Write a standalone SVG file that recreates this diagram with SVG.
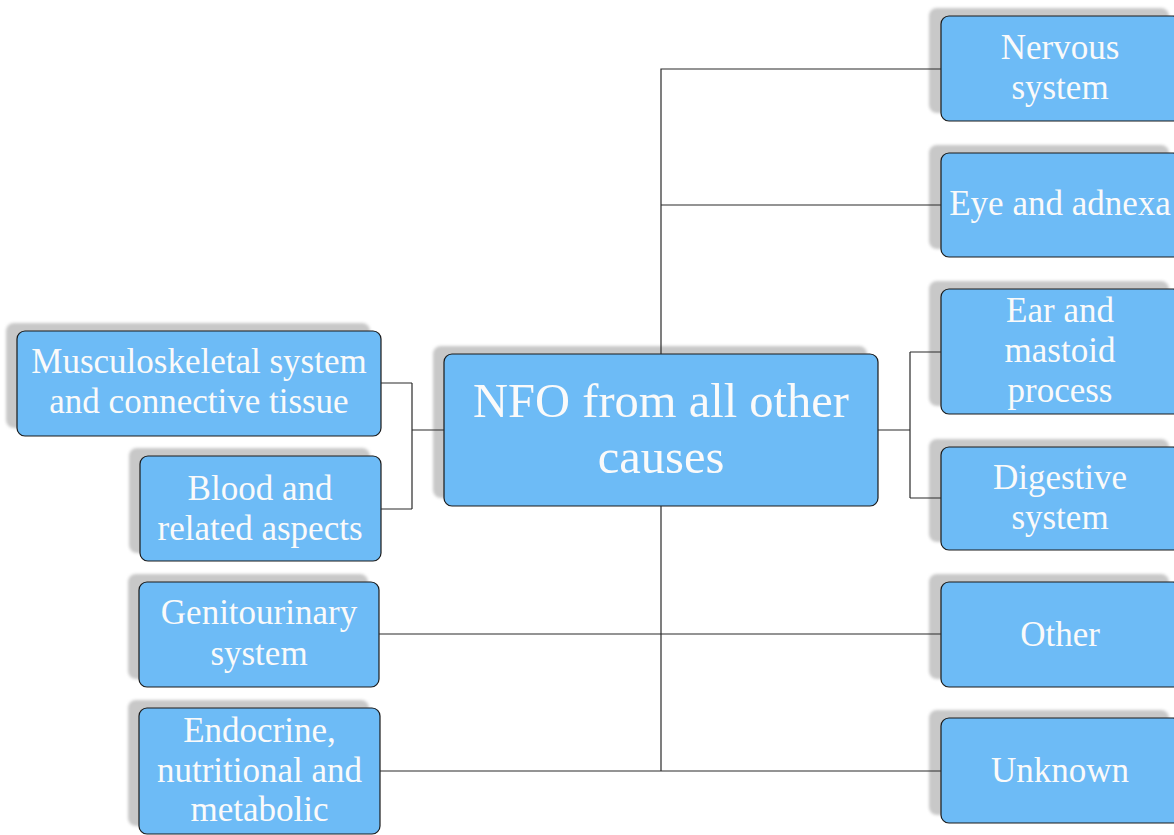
<svg xmlns="http://www.w3.org/2000/svg" width="1174" height="835" viewBox="0 0 1174 835">
  <style>
    .shadow { fill: #c8c8c8; filter: url(#soft); }
    .box { fill: #6dbbf6; stroke: #1a1a1a; stroke-width: 1.2; }
    .label { font-family: "Liberation Serif", "Times New Roman", serif; font-size: 35px; fill: #fafafa; text-anchor: middle; }
    .big { font-size: 48.5px; }
    .wire { fill: none; stroke: #2a2a2a; stroke-width: 1.2; }
  </style>
  <defs>
    <filter id="soft" x="-10%" y="-10%" width="120%" height="120%">
      <feGaussianBlur stdDeviation="1.6"/>
    </filter>
  </defs>
  <rect width="1174" height="835" fill="#ffffff"/>

  <!-- central node -->
  <g id="center">
    <rect class="shadow" x="433" y="346" width="434" height="152" rx="8"/>
    <rect class="box" x="444" y="354" width="434" height="152" rx="8"/>
    <text class="label big" x="661" y="417">NFO from all other</text>
    <text class="label big" x="661" y="473">causes</text>
  </g>

  <!-- right column -->
  <g id="nervous">
    <rect class="shadow" x="929" y="8" width="240" height="105" rx="8"/>
    <rect class="box" x="941" y="16" width="240" height="105" rx="8"/>
    <text class="label" x="1060" y="59">Nervous</text>
    <text class="label" x="1060" y="99">system</text>
  </g>
  <g id="eye">
    <rect class="shadow" x="929" y="145" width="240" height="104" rx="8"/>
    <rect class="box" x="941" y="153" width="240" height="104" rx="8"/>
    <text class="label" x="1060" y="215">Eye and adnexa</text>
  </g>
  <g id="ear">
    <rect class="shadow" x="929" y="281" width="240" height="125" rx="8"/>
    <rect class="box" x="941" y="289" width="240" height="125" rx="8"/>
    <text class="label" x="1060" y="322">Ear and</text>
    <text class="label" x="1060" y="362">mastoid</text>
    <text class="label" x="1060" y="402">process</text>
  </g>
  <g id="digestive">
    <rect class="shadow" x="929" y="439" width="240" height="103" rx="8"/>
    <rect class="box" x="941" y="447" width="240" height="103" rx="8"/>
    <text class="label" x="1060" y="489">Digestive</text>
    <text class="label" x="1060" y="529">system</text>
  </g>
  <g id="other">
    <rect class="shadow" x="929" y="574" width="240" height="105" rx="8"/>
    <rect class="box" x="941" y="582" width="240" height="105" rx="8"/>
    <text class="label" x="1060" y="646">Other</text>
  </g>
  <g id="unknown">
    <rect class="shadow" x="929" y="710" width="240" height="105" rx="8"/>
    <rect class="box" x="941" y="718" width="240" height="105" rx="8"/>
    <text class="label" x="1060" y="782">Unknown</text>
  </g>

  <!-- left column -->
  <g id="musculoskeletal">
    <rect class="shadow" x="6" y="323" width="364" height="105" rx="8"/>
    <rect class="box" x="17" y="331" width="364" height="105" rx="8"/>
    <text class="label" x="199" y="373">Musculoskeletal system</text>
    <text class="label" x="199" y="413">and connective tissue</text>
  </g>
  <g id="blood">
    <rect class="shadow" x="129" y="448" width="241" height="105" rx="8"/>
    <rect class="box" x="140" y="456" width="241" height="105" rx="8"/>
    <text class="label" x="260" y="500">Blood and</text>
    <text class="label" x="260" y="540">related aspects</text>
  </g>
  <g id="genitourinary">
    <rect class="shadow" x="128" y="574" width="240" height="105" rx="8"/>
    <rect class="box" x="139" y="582" width="240" height="105" rx="8"/>
    <text class="label" x="259" y="624">Genitourinary</text>
    <text class="label" x="259" y="665">system</text>
  </g>
  <g id="endocrine">
    <rect class="shadow" x="128" y="700" width="241" height="126" rx="8"/>
    <rect class="box" x="139" y="708" width="241" height="126" rx="8"/>
    <text class="label" x="259.5" y="742">Endocrine,</text>
    <text class="label" x="259.5" y="782">nutritional and</text>
    <text class="label" x="259.5" y="821">metabolic</text>
  </g>

  <!-- connectors, drawn over the drop shadows and ending at the box edges -->
  <g id="connectors">
    <path class="wire" d="M661 354 V69 H941 M661 205 H941"/>
    <path class="wire" d="M661 506 V771 M380 771 H941 M379 634 H941"/>
    <path class="wire" d="M878 430 H910 M910 352 V498 M910 352 H941 M910 498 H941"/>
    <path class="wire" d="M444 430 H412 M412 383 V509 M381 383 H412 M381 509 H412"/>
  </g>
</svg>
